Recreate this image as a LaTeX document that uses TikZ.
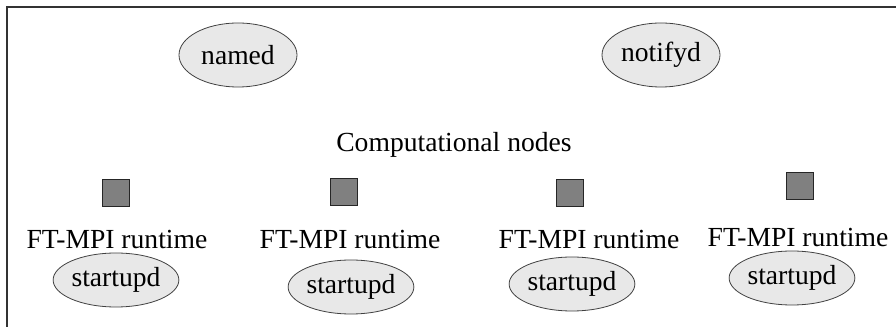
\documentclass[tikz,border=0pt]{standalone}
\usepackage{fontspec}
\setmainfont{Liberation Serif}
\usepackage{tikz}
\usetikzlibrary{shapes.geometric}

\tikzset{
  daemon/.style={ellipse, draw=black!75, fill=black!9, line width=0.6, inner sep=0pt, minimum width=88.5pt},
  host/.style={rectangle, draw=black!85, fill=black!50, line width=0.9, inner sep=0pt, minimum size=20.5pt},
  label/.style={inner sep=0pt, font=\fontsize{20.7}{24}\selectfont}
}

\begin{document}
\begin{tikzpicture}[x=0.75pt,y=0.75pt,yscale=-1,xscale=1]
    \useasboundingbox (0,0) rectangle (896,327);

    %Straight Lines [frame]
    \draw [color=black!80, line width=1.5]  (7,327) -- (7,7.5) -- (896,7.5) ;

    %Shape: Ellipse [named]
    \node [daemon, minimum height=48pt, font=\fontsize{20.7}{24}\selectfont] (named) at (238,55) {named};
    %Shape: Ellipse [notifyd]
    \node [daemon, minimum height=48pt, font=\fontsize{20.7}{24}\selectfont] (notifyd) at (661,55) {notifyd};

    % Text Node
    \node [label] (compnodes) at (454,145) {Computational nodes};

    %Shape: Square [hosts]
    \node [host] (hostA) at (116,193) {};
    \node [host] (hostB) at (344,192) {};
    \node [host] (hostC) at (570,193) {};
    \node [host] (hostD) at (800,186) {};

    % Text Node
    \node [label] (rtA) at (117,240) {FT-MPI runtime};
    % Text Node
    \node [label] (rtB) at (350,240) {FT-MPI runtime};
    % Text Node
    \node [label] (rtC) at (589,240) {FT-MPI runtime};
    % Text Node
    \node [label] (rtD) at (798,237) {FT-MPI runtime};

    %Shape: Ellipse [startupd]
    \node [daemon, minimum height=40.5pt, font=\fontsize{20.7}{24}\selectfont] (stA) at (116,280) {startupd};
    \node [daemon, minimum height=40.5pt, font=\fontsize{20.7}{24}\selectfont] (stB) at (351,287) {startupd};
    \node [daemon, minimum height=40.5pt, font=\fontsize{20.7}{24}\selectfont] (stC) at (572,284) {startupd};
    \node [daemon, minimum height=40.5pt, font=\fontsize{20.7}{24}\selectfont] (stD) at (792,278) {startupd};

\end{tikzpicture}
\end{document}
